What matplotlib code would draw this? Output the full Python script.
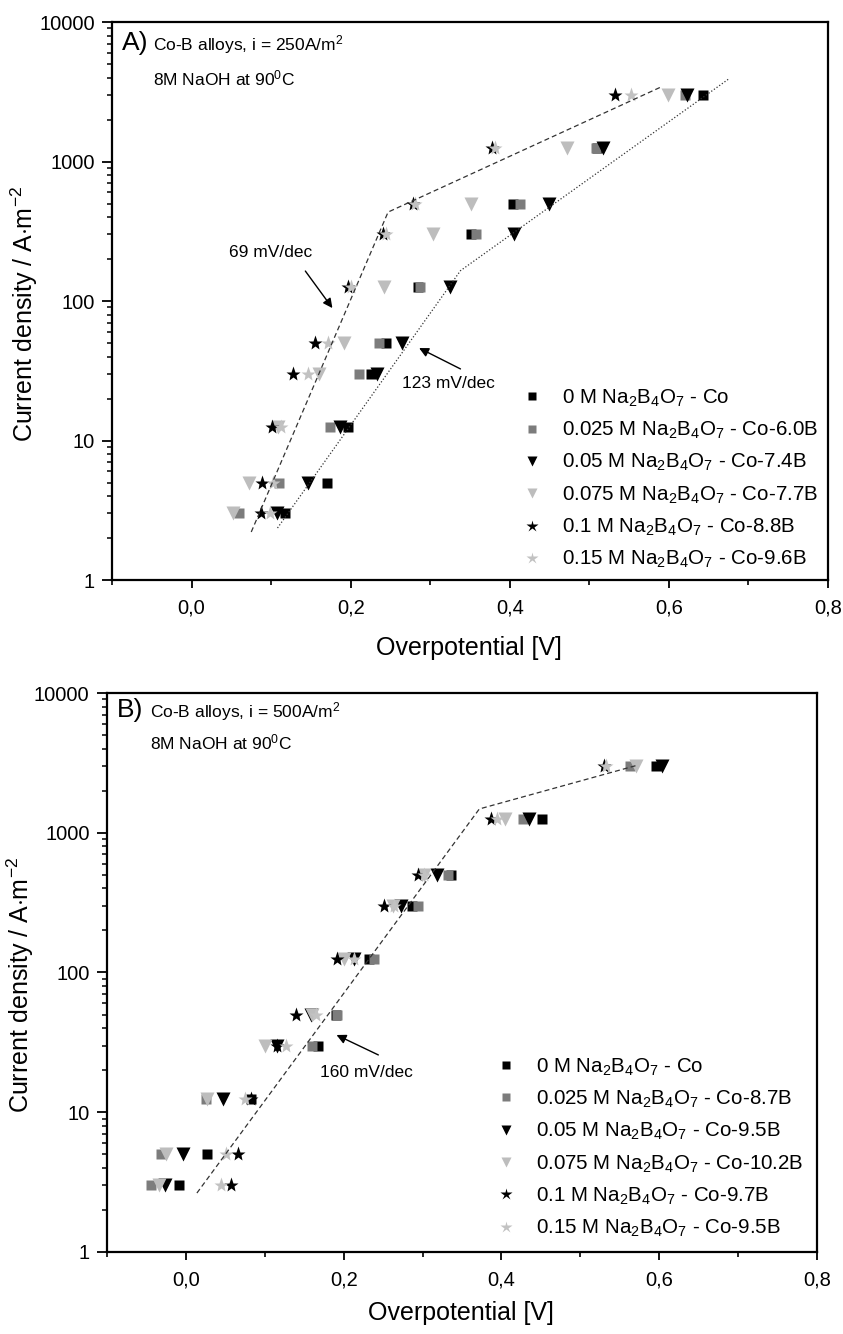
import matplotlib
matplotlib.use('Agg')
import matplotlib.pyplot as plt
from matplotlib.ticker import MultipleLocator, FixedLocator, FuncFormatter, LogLocator, NullFormatter

plt.rcParams['font.family'] = ['Liberation Sans', 'DejaVu Sans']
plt.rcParams['mathtext.fontset'] = 'custom'
plt.rcParams['mathtext.rm'] = 'Liberation Sans'
plt.rcParams['mathtext.it'] = 'Liberation Sans:italic'
plt.rcParams['mathtext.bf'] = 'Liberation Sans:bold'

# ---------------- data ----------------
current_levels = [3, 5, 12.5, 30, 50, 125, 300, 500, 1250, 3000]

# Panel A (i = 250 A/m2): overpotential (V) for each current level
a_co = [0.118, 0.170, 0.196, 0.225, 0.245, 0.285, 0.351, 0.404, 0.510, 0.643]
a_b025 = [0.060, 0.110, 0.174, 0.211, 0.235, 0.287, 0.357, 0.413, 0.508, 0.620]
a_b05 = [0.107, 0.146, 0.186, 0.233, 0.264, 0.325, 0.405, 0.449, 0.517, 0.623]
a_b075 = [0.052, 0.072, 0.108, 0.160, 0.191, 0.242, 0.303, 0.351, 0.472, 0.599]
a_b10 = [0.087, 0.089, 0.101, 0.128, 0.155, 0.197, 0.240, 0.278, 0.378, 0.532]
a_b15 = [0.099, 0.102, 0.113, 0.146, 0.171, 0.201, 0.244, 0.281, 0.382, 0.552]
labels_a = [r'0 M Na$_2$B$_4$O$_7$ - Co',
            r'0.025 M Na$_2$B$_4$O$_7$ - Co-6.0B',
            r'0.05 M Na$_2$B$_4$O$_7$ - Co-7.4B',
            r'0.075 M Na$_2$B$_4$O$_7$ - Co-7.7B',
            r'0.1 M Na$_2$B$_4$O$_7$ - Co-8.8B',
            r'0.15 M Na$_2$B$_4$O$_7$ - Co-9.6B']
# Tafel fit lines panel A
fitA1_x = [0.075, 0.247, 0.590]
fitA1_y = [2.21, 434, 3420]
fitA2_x = [0.108, 0.338, 0.675]
fitA2_y = [2.36, 165, 3900]

# Panel B (i = 500 A/m2)
b_co = [-0.009, 0.027, 0.083, 0.168, 0.190, 0.232, 0.287, 0.336, 0.451, 0.596]
b_b025 = [-0.044, -0.031, 0.025, 0.160, 0.192, 0.239, 0.294, 0.332, 0.427, 0.563]
b_b05 = [-0.026, -0.004, 0.047, 0.115, 0.158, 0.213, 0.273, 0.318, 0.435, 0.603]
b_b075 = [-0.034, -0.025, 0.027, 0.100, 0.160, 0.201, 0.262, 0.302, 0.405, 0.571]
b_b10 = [0.057, 0.066, 0.083, 0.115, 0.140, 0.191, 0.251, 0.294, 0.387, 0.530]
b_b15 = [0.044, 0.051, 0.075, 0.127, 0.165, 0.213, 0.264, 0.302, 0.394, 0.532]
labels_b = [r'0 M Na$_2$B$_4$O$_7$ - Co',
            r'0.025 M Na$_2$B$_4$O$_7$ - Co-8.7B',
            r'0.05 M Na$_2$B$_4$O$_7$ - Co-9.5B',
            r'0.075 M Na$_2$B$_4$O$_7$ - Co-10.2B',
            r'0.1 M Na$_2$B$_4$O$_7$ - Co-9.7B',
            r'0.15 M Na$_2$B$_4$O$_7$ - Co-9.5B']
fitB_x = [0.014, 0.372, 0.573]
fitB_y = [2.64, 1480, 3050]

x_ticks = [0.0, 0.2, 0.4, 0.6, 0.8]
y_ticks = [1, 10, 100, 1000, 10000]

# ---------------- styles ----------------
styles = [dict(marker='s', color='#000000', ms=6.8),
          dict(marker='s', color='#7c7c7c', ms=6.8),
          dict(marker='v', color='#000000', ms=9.5),
          dict(marker='v', color='#bdbdbd', ms=9.5),
          dict(marker='*', color='#000000', ms=11),
          dict(marker='*', color='#c2c2c2', ms=11)]

fig = plt.figure(figsize=(8.43, 13.34), dpi=100)
axA = fig.add_axes([0.1329, 0.5652, 0.8493, 0.4183])
axB = fig.add_axes([0.1269, 0.0615, 0.8422, 0.4190])


def style_axes(ax):
    ax.set_yscale('log')
    ax.set_xlim(-0.1, 0.8)
    ax.set_ylim(1, 10000)
    for s in ax.spines.values():
        s.set_linewidth(1.6)
    ax.xaxis.set_major_locator(FixedLocator(x_ticks))
    ax.xaxis.set_minor_locator(MultipleLocator(0.1))
    ax.xaxis.set_major_formatter(FuncFormatter(lambda v, p: f'{v:.1f}'.replace('.', ',')))
    ax.yaxis.set_major_locator(FixedLocator(y_ticks))
    ax.yaxis.set_major_formatter(FuncFormatter(lambda v, p: f'{v:g}'))
    ax.yaxis.set_minor_locator(LogLocator(base=10, subs=range(2, 10), numticks=20))
    ax.yaxis.set_minor_formatter(NullFormatter())
    ax.tick_params(axis='x', which='major', direction='out', length=6, width=1.3,
                   labelsize=14.5, pad=7, top=False)
    ax.tick_params(axis='x', which='minor', direction='out', length=3.5, width=1.2,
                   top=False)
    ax.tick_params(axis='y', which='major', direction='out', length=7.5, width=1.3,
                   labelsize=14.5, pad=5, right=False)
    ax.tick_params(axis='y', which='minor', direction='out', length=3.5, width=1.1,
                   right=False)


def draw_series(ax, series, labels):
    for xs, st, lab in zip(series, styles, labels):
        ax.plot(xs, current_levels, ls='none', marker=st['marker'], color=st['color'],
                ms=st['ms'], mec='none', label=lab)


style_axes(axA)
style_axes(axB)

draw_series(axA, [a_co, a_b025, a_b05, a_b075, a_b10, a_b15], labels_a)
axA.plot(fitA1_x, fitA1_y, ls=(0, (4, 2.5)), color='#333333', lw=0.9)
axA.plot(fitA2_x, fitA2_y, ls=(0, (1, 1.6)), color='#333333', lw=0.9)

draw_series(axB, [b_co, b_b025, b_b05, b_b075, b_b10, b_b15], labels_b)
axB.plot(fitB_x, fitB_y, ls=(0, (4, 2.5)), color='#333333', lw=0.9)

arrow = dict(arrowstyle='-|>', color='black', lw=1.0, mutation_scale=14, shrinkA=0, shrinkB=0)
axA.annotate('', xy=(0.177, 89), xytext=(0.143, 164), arrowprops=arrow)
axA.text(0.099, 221, '69 mV/dec', fontsize=12.5, ha='center', va='center')
axA.annotate('', xy=(0.286, 46), xytext=(0.338, 32.6), arrowprops=arrow)
axA.text(0.265, 25.8, '123 mV/dec', fontsize=12.5, ha='left', va='center')
axB.annotate('', xy=(0.191, 35.7), xytext=(0.244, 25.7), arrowprops=arrow)
axB.text(0.170, 19.1, '160 mV/dec', fontsize=12.5, ha='left', va='center')

axA.text(0.014, 0.962, 'A)', transform=axA.transAxes, fontsize=19, ha='left', va='center')
axA.text(0.057, 0.959, r'Co-B alloys, i = 250A/m$^2$', transform=axA.transAxes,
         fontsize=12.5, ha='left', va='center')
axA.text(0.057, 0.898, r'8M NaOH at 90$^0$C', transform=axA.transAxes,
         fontsize=12.5, ha='left', va='center')
axB.text(0.014, 0.970, 'B)', transform=axB.transAxes, fontsize=19, ha='left', va='center')
axB.text(0.061, 0.966, r'Co-B alloys, i = 500A/m$^2$', transform=axB.transAxes,
         fontsize=12.5, ha='left', va='center')
axB.text(0.061, 0.911, r'8M NaOH at 90$^0$C', transform=axB.transAxes,
         fontsize=12.5, ha='left', va='center')

leg_kw = dict(frameon=False, fontsize=14.8, numpoints=1, handlelength=1.0,
              handletextpad=0.95, labelspacing=0.535, borderpad=0, borderaxespad=0,
              markerscale=0.8, loc='upper left')
axA.legend(bbox_to_anchor=(0.572, 0.345), **leg_kw)
axB.legend(bbox_to_anchor=(0.548, 0.350), **leg_kw)

fig.text(469 / 843, 1 - 648 / 1334, 'Overpotential [V]', fontsize=18, ha='center', va='center')
fig.text(461 / 843, 1 - 1313 / 1334, 'Overpotential [V]', fontsize=18, ha='center', va='center')
fig.text(24 / 843, 1 - 314 / 1334, r'Current density / A$\cdot$m$^{-2}$', fontsize=18,
         ha='center', va='center', rotation=90)
fig.text(20 / 843, 1 - 985 / 1334, r'Current density / A$\cdot$m$^{-2}$', fontsize=18,
         ha='center', va='center', rotation=90)

fig.savefig('out.png', dpi=100)
